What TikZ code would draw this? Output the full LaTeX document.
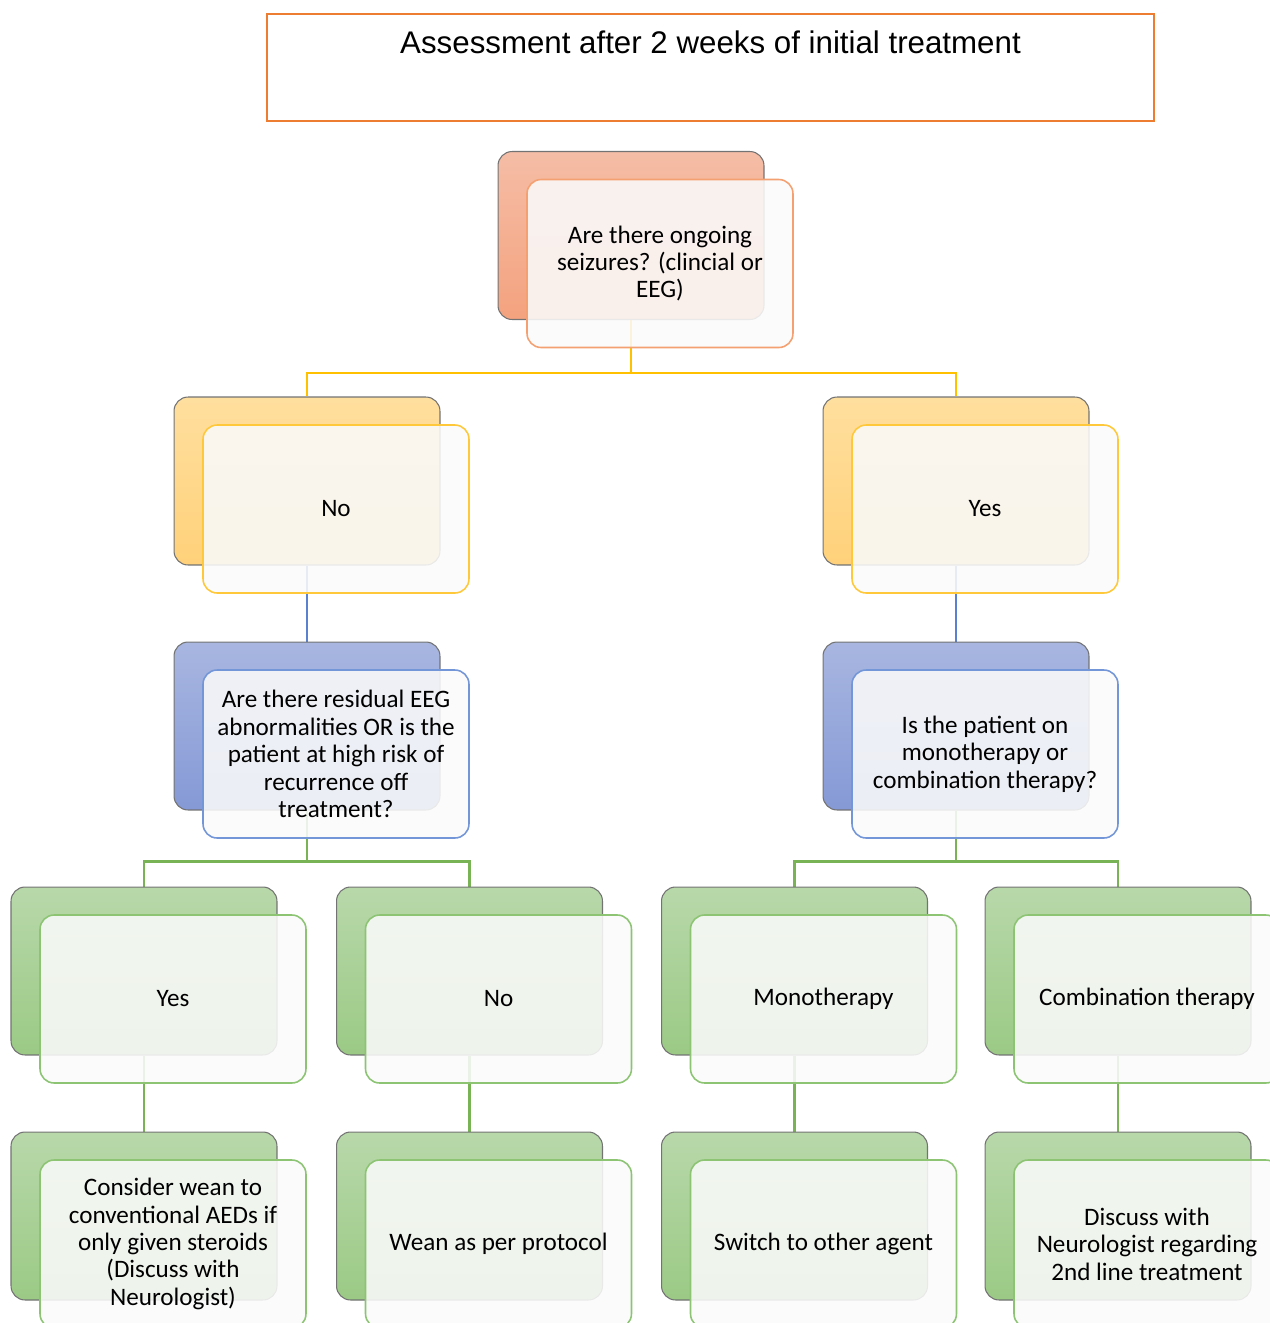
\documentclass[tikz,border=0pt]{standalone}
\usepackage{fontspec}
\setmainfont{Carlito}
\newfontfamily\titlefont{Liberation Sans}
\usetikzlibrary{backgrounds}
\definecolor{orgtop}{HTML}{F5BDA6}
\definecolor{orgbot}{HTML}{F4A27E}
\definecolor{orgline}{HTML}{F4A070}
\definecolor{yeltop}{HTML}{FFDF9E}
\definecolor{yelbot}{HTML}{FFD17A}
\definecolor{yelline}{HTML}{FFC83A}
\definecolor{yelconn}{HTML}{FFC000}
\definecolor{blutop}{HTML}{A8B6E0}
\definecolor{blubot}{HTML}{8599D6}
\definecolor{bluline}{HTML}{7396D8}
\definecolor{bluconn}{HTML}{5A80CF}
\definecolor{grntop}{HTML}{B8D8AA}
\definecolor{grnbot}{HTML}{9BCA85}
\definecolor{grnline}{HTML}{8CC474}
\definecolor{grnconn}{HTML}{78B456}
\definecolor{ttlline}{HTML}{ED7D31}
\begin{document}
\begin{tikzpicture}[x=0.02cm,y=-0.02cm,
	back/.style={draw=black!55,line width=0.6pt,rounded corners=8pt,minimum width=5.32cm,minimum height=3.36cm,inner sep=0pt},
	front/.style={rounded corners=8pt,fill=black!2,fill opacity=0.88,text opacity=1,line width=0.9pt,minimum width=5.32cm,minimum height=3.36cm,align=center,inner sep=2pt,font=\fontsize{14.3}{15.6}\selectfont},
	conn/.style={line width=1.6pt}]
	\useasboundingbox (0,0) rectangle (1270,1323);
	\clip (0,0) rectangle (1270,1323);

	\node[draw=ttlline,line width=1.3pt,minimum width=17.74cm,inner sep=0pt,text height=0.78cm,text depth=1.36cm,font=\titlefont\fontsize{17.8}{20}\selectfont] (title) at (710.5,67.5) {Assessment after 2 weeks of initial treatment};

	\foreach \n/\x/\y/\col/\t in {
		top/631/235.5/org/{Are there ongoing\\seizures? (clincial or\\EEG)},
		no/307/481/yel/No, yes/956/481/yel/Yes,
		noq/307/726/blu/{Are there residual EEG\\abnormalities OR is the\\patient at high risk of\\recurrence off\\treatment?},
		yesq/956/726/blu/{Is the patient on\\monotherapy or\\combination therapy?},
		ny/144/971/grn/Yes, nn/469.5/971/grn/No,
		mono/794.5/971/grn/Monotherapy, combo/1118/971/grn/Combination therapy,
		consider/144/1216/grn/{Consider wean to\\conventional AEDs if\\only given steroids\\(Discuss with\\Neurologist)},
		wean/469.5/1216/grn/Wean as per protocol,
		switch/794.5/1216/grn/Switch to other agent,
		discuss/1118/1216/grn/{Discuss with\\Neurologist regarding\\2nd line treatment}}
		{\node[back,top color=\col top,bottom color=\col bot] (\n-b) at (\x,\y) {};
		 \node[front,draw=\col line] (\n) at ([shift={(29,28)}]\n-b.center) {\t};}

	\begin{pgfonlayer}{background}
		\draw[conn,yelconn] (top-b.south) -- ++(0,53) -| (no-b.north);
		\draw[conn,yelconn] (top-b.south) -- ++(0,53) -| (yes-b.north);
		\draw[conn,bluconn] (no-b.south) -- (noq-b.north);
		\draw[conn,bluconn] (yes-b.south) -- (yesq-b.north);
		\draw[conn,grnconn] (noq-b.south) -- ++(0,51) -| (ny-b.north);
		\draw[conn,grnconn] (noq-b.south) -- ++(0,51) -| (nn-b.north);
		\draw[conn,grnconn] (yesq-b.south) -- ++(0,51) -| (mono-b.north);
		\draw[conn,grnconn] (yesq-b.south) -- ++(0,51) -| (combo-b.north);
		\foreach \a/\b in {ny/consider,nn/wean,mono/switch,combo/discuss}
			\draw[conn,grnconn] (\a-b.south) -- (\b-b.north);
	\end{pgfonlayer}
\end{tikzpicture}
\end{document}
